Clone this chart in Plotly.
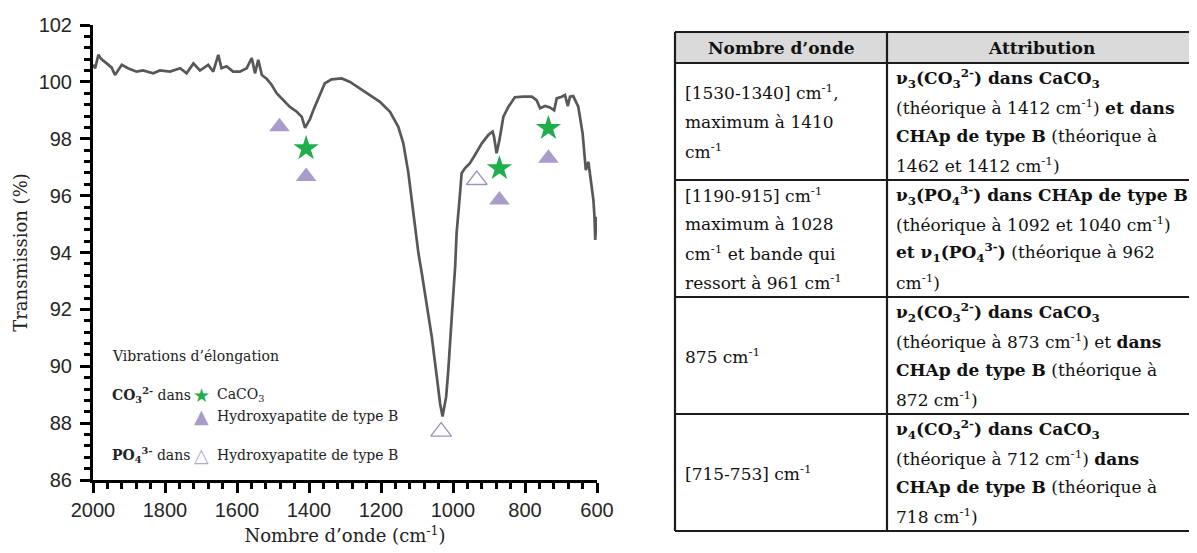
import plotly.graph_objects as go

# the page body has an 8 px default margin: the figure is shifted to (8, 8)
OFF = 8
W, H = 1197 - OFF, 553 - OFF

# ---------------- data ----------------
wavenumber = [2000, 1994, 1985, 1977, 1962, 1948, 1939, 1920, 1903, 1879, 1861, 1833, 1814, 1786,
              1758, 1740, 1721, 1703, 1680, 1666, 1652, 1643, 1629, 1611, 1592, 1573, 1559, 1550,
              1541, 1531, 1517, 1504, 1490, 1472, 1453, 1434, 1420, 1411, 1397, 1388, 1369, 1356,
              1337, 1309, 1286, 1258, 1231, 1203, 1175, 1152, 1138, 1124, 1110, 1096, 1087, 1073,
              1059, 1045, 1036, 1029, 1019, 1013, 1006, 1001, 994, 990, 982, 976, 967, 953, 939,
              920, 902, 890, 886, 879, 871, 860, 846, 828, 805, 781, 768, 758, 744, 731, 719, 712,
              698, 689, 681, 675, 666, 652, 640, 631, 624, 618, 610, 607, 605, 601]
transmission = [100.6, 100.48, 100.95, 100.8, 100.65, 100.5, 100.24, 100.6, 100.48, 100.36, 100.4,
                100.3, 100.4, 100.36, 100.48, 100.3, 100.65, 100.4, 100.6, 100.36, 100.95, 100.48,
                100.55, 100.36, 100.36, 100.48, 100.84, 100.3, 100.78, 100.24, 100.1, 99.9, 99.6,
                99.36, 99.12, 98.95, 98.77, 98.38, 98.7, 99.0, 99.6, 99.95, 100.09, 100.12, 100.0,
                99.77, 99.54, 99.3, 98.95, 98.42, 97.84, 96.8, 95.38, 93.97, 93.3, 92.2, 91.04,
                89.63, 88.7, 88.23, 88.93, 89.87, 91.04, 92.2, 93.5, 94.68, 95.85, 96.79, 96.96,
                97.14, 97.43, 97.84, 98.13, 98.25, 98.07, 97.49, 97.96, 98.78, 99.13, 99.46, 99.48,
                99.48, 99.36, 99.07, 99.15, 99.1, 99.0, 99.42, 99.48, 99.54, 99.15, 99.48, 99.5,
                99.13, 98.19, 96.9, 97.19, 96.67, 95.85, 95.26, 94.44, 95.26]

caco3_x = [1408, 871, 735]
caco3_y = [97.66, 96.96, 98.37]
chap_co3_x = [1482, 1408, 871, 735]
chap_co3_y = [98.42, 96.67, 95.85, 97.31]
chap_po4_x = [1033, 934]
chap_po4_y = [87.7, 96.55]

x_ticks = [2000, 1800, 1600, 1400, 1200, 1000, 800, 600]
y_ticks = [86, 88, 90, 92, 94, 96, 98, 100, 102]

table_header = ["Nombre d’onde", "Attribution"]
table_wavenumber = [
    ["[1530-1340] cm<sup>-1</sup>,", "maximum à 1410", "cm<sup>-1</sup>"],
    ["[1190-915] cm<sup>-1</sup>", "maximum à 1028", "cm<sup>-1</sup> et bande qui",
     "ressort à 961 cm<sup>-1</sup>"],
    ["875 cm<sup>-1</sup>"],
    ["[715-753] cm<sup>-1</sup>"],
]
table_attribution = [
    ["<b>ν<sub>3</sub>(CO<sub>3</sub><sup>2-</sup>) dans CaCO<sub>3</sub></b>",
     "(théorique à 1412 cm<sup>-1</sup>) <b>et dans</b>",
     "<b>CHAp de type B</b> (théorique à",
     "1462 et 1412 cm<sup>-1</sup>)"],
    ["<b>ν<sub>3</sub>(PO<sub>4</sub><sup>3-</sup>) dans CHAp de type B</b>",
     "(théorique à 1092 et 1040 cm<sup>-1</sup>)",
     "<b>et ν<sub>1</sub>(PO<sub>4</sub><sup>3-</sup>)</b> (théorique à 962",
     "cm<sup>-1</sup>)"],
    ["<b>ν<sub>2</sub>(CO<sub>3</sub><sup>2-</sup>) dans CaCO<sub>3</sub></b>",
     "(théorique à 873 cm<sup>-1</sup>) et <b>dans</b>",
     "<b>CHAp de type B</b> (théorique à",
     "872 cm<sup>-1</sup>)"],
    ["<b>ν<sub>4</sub>(CO<sub>3</sub><sup>2-</sup>) dans CaCO<sub>3</sub></b>",
     "(théorique à 712 cm<sup>-1</sup>) <b>dans</b>",
     "<b>CHAp de type B</b> (théorique à",
     "718 cm<sup>-1</sup>)"],
]

# ---------------- styling / layout helpers ----------------
SERIF = "DejaVu Serif"
SANS = "Liberation Sans, Arial"
LAV = "#a99ccb"
GREEN = "#1fae4b"
LINE = "#585858"


def px(x):
    return (x - OFF) / W


def py(y):
    return 1 - (y - OFF) / H


fig = go.Figure()

fig.add_trace(go.Scatter(x=wavenumber, y=transmission, mode="lines",
                         line=dict(color=LINE, width=2.7), showlegend=False,
                         hoverinfo="skip"))
fig.add_trace(go.Scatter(x=chap_co3_x, y=chap_co3_y, mode="markers",
                         marker=dict(symbol="triangle-up", size=18, color=LAV,
                                     line=dict(width=0)), showlegend=False))
fig.add_trace(go.Scatter(x=caco3_x, y=caco3_y, mode="markers",
                         marker=dict(symbol="star", size=19, color=GREEN,
                                     line=dict(width=0)), showlegend=False))
fig.add_trace(go.Scatter(x=chap_po4_x, y=chap_po4_y, mode="markers",
                         marker=dict(symbol="triangle-up-open", size=18, color="#9d93bd",
                                     line=dict(width=1.3)), showlegend=False))

axis_common = dict(showline=True, linecolor="black", linewidth=3, ticks="outside",
                   ticklen=10, tickwidth=3, tickcolor="black", showgrid=False,
                   zeroline=False, automargin=False,
                   tickfont=dict(family=SANS, size=20, color="#262626"))

fig.update_layout(
    width=W, height=H, margin=dict(l=0, r=0, t=0, b=0),
    paper_bgcolor="white", plot_bgcolor="white",
    xaxis=dict(domain=[px(93), px(597)], range=[2000, 600], tickvals=x_ticks,
               minor=dict(dtick=40, tick0=0, ticks="outside", ticklen=6, tickwidth=3,
                          tickcolor="black"),
               ticklabelstandoff=0,
               title=dict(text="Nombre d’onde (cm<sup>-1</sup>)",
                          font=dict(family=SERIF, size=18, color="#222"), standoff=10),
               **axis_common),
    yaxis=dict(domain=[py(480), py(25)], range=[86, 102], tickvals=y_ticks,
               minor=dict(dtick=0.4, tick0=86, ticks="outside", ticklen=6, tickwidth=3,
                          tickcolor="black"),
               ticklabelstandoff=4,
               title=dict(text="Transmission (%)",
                          font=dict(family=SERIF, size=18, color="#222"), standoff=7),
               **axis_common),
)

annotations = []
shapes = []

# ---------------- in-plot legend ----------------
leg_font = dict(family=SERIF, size=14, color="#222")
annotations.append(dict(text="Vibrations d’élongation", x=px(110), y=py(356), xref="paper",
                        yref="paper", xanchor="left", yanchor="middle", showarrow=False,
                        font=leg_font))
annotations.append(dict(text="<b>CO<sub>3</sub><sup>2-</sup></b> dans", x=px(110), y=py(395),
                        xref="paper", yref="paper", xanchor="left", yanchor="middle",
                        showarrow=False, font=leg_font))
annotations.append(dict(text="<b>PO<sub>4</sub><sup>3-</sup></b> dans", x=px(110), y=py(455),
                        xref="paper", yref="paper", xanchor="left", yanchor="middle",
                        showarrow=False, font=leg_font))
for glyph, color, yy in [("★", GREEN, 395), ("▲", LAV, 416), ("△", "#b2aacb", 455)]:
    annotations.append(dict(text=glyph, x=px(201), y=py(yy), xref="paper", yref="paper",
                            xanchor="center", yanchor="middle", showarrow=False,
                            font=dict(family="DejaVu Sans", size=19, color=color)))
for txt, yy in [("CaCO<sub>3</sub>", 395), ("Hydroxyapatite de type B", 416),
                ("Hydroxyapatite de type B", 455)]:
    annotations.append(dict(text=txt, x=px(215), y=py(yy), xref="paper", yref="paper",
                            xanchor="left", yanchor="middle", showarrow=False, font=leg_font))

# ---------------- table ----------------
T_LEFT, T_SPLIT, T_RIGHT = 675, 887, 1195
T_TOP, H_BOTTOM = 32, 63
ROW_BOTTOMS = [180, 297, 414, 531]
LINE_SP = 29
tbl_font = dict(family=SERIF, size=17, color="#111")
BORDER = dict(color="#1c1c1c", width=2.2)

shapes.append(dict(type="rect", xref="paper", yref="paper", x0=px(T_LEFT), x1=px(T_RIGHT),
                   y0=py(H_BOTTOM), y1=py(T_TOP), fillcolor="#dadada", line=dict(width=0),
                   layer="below"))
for yy in [T_TOP, H_BOTTOM] + ROW_BOTTOMS:
    shapes.append(dict(type="line", xref="paper", yref="paper", x0=px(T_LEFT), x1=px(T_RIGHT),
                       y0=py(yy), y1=py(yy), line=BORDER))
for xx in [T_LEFT, T_SPLIT, T_RIGHT]:
    shapes.append(dict(type="line", xref="paper", yref="paper", x0=px(xx), x1=px(xx),
                       y0=py(T_TOP), y1=py(ROW_BOTTOMS[-1]), line=BORDER))

annotations.append(dict(text="<b>" + table_header[0] + "</b>", x=px((T_LEFT + T_SPLIT) / 2),
                        y=py((T_TOP + H_BOTTOM) / 2), xref="paper", yref="paper",
                        xanchor="center", yanchor="middle", showarrow=False, font=tbl_font))
annotations.append(dict(text="<b>" + table_header[1] + "</b>", x=px((T_SPLIT + T_RIGHT) / 2),
                        y=py((T_TOP + H_BOTTOM) / 2), xref="paper", yref="paper",
                        xanchor="center", yanchor="middle", showarrow=False, font=tbl_font))

row_tops = [H_BOTTOM] + ROW_BOTTOMS[:-1]
for i, (top, bot) in enumerate(zip(row_tops, ROW_BOTTOMS)):
    cy = (top + bot) / 2
    for col_lines, xl in [(table_wavenumber[i], T_LEFT + 8), (table_attribution[i], T_SPLIT + 7)]:
        n = len(col_lines)
        for k, line in enumerate(col_lines):
            yy = cy + (k - (n - 1) / 2) * LINE_SP
            annotations.append(dict(text=line, x=px(xl), y=py(yy), xref="paper", yref="paper",
                                    xanchor="left", yanchor="middle", showarrow=False,
                                    font=tbl_font))

fig.update_layout(annotations=annotations, shapes=shapes)
fig.write_html("out.html")
